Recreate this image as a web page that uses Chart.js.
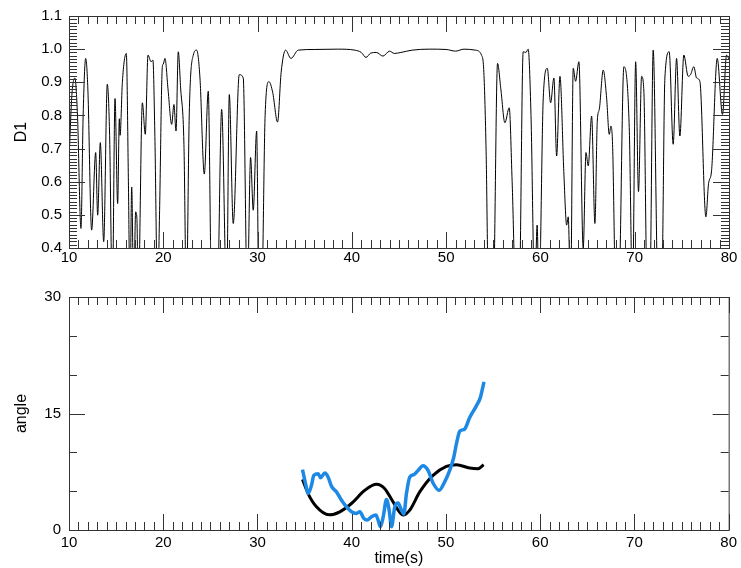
<!DOCTYPE html>
<html>
<head>
<meta charset="utf-8">
<script src="https://cdn.jsdelivr.net/npm/chart.js@4.4.1/dist/chart.umd.min.js"></script>
<style>
  body { margin: 0; background: #fff; }
  #wrap { position: relative; width: 741px; height: 568px; }
  canvas { position: absolute; left: 0; }
</style>
</head>
<body>
<div id="wrap">
  <canvas id="d1Chart" width="741" height="270" style="top:0px"></canvas>
  <canvas id="angleChart" width="741" height="288" style="top:280px"></canvas>
</div>
<script>
// tick labels
const timeTicks = [10, 20, 30, 40, 50, 60, 70, 80];
const d1Ticks = [0.4, 0.5, 0.6, 0.7, 0.8, 0.9, 1.0, 1.1];
const angleTicks = [0, 15, 30];

// top panel: D1 vs time (dips below 0.4 run off the plot)
const d1Time = [
  10.05, 10.3, 10.62, 10.9, 11.27, 11.5, 11.77, 12.0, 12.4, 12.83, 13.04, 13.32, 13.68, 14.06, 14.3, 14.6,
  14.88, 15.16, 15.34, 15.42, 15.66, 16.08, 16.3, 16.47, 16.65, 16.86, 17.07, 17.2, 17.35, 17.78, 18.09,
  18.38, 18.7, 18.9, 19.1, 19.4, 19.6, 19.9, 20.0, 20.18, 20.5, 20.89, 21.13, 21.35, 21.59, 21.84, 22.19,
  22.45, 22.76, 23.18, 23.54, 23.89, 24.35, 24.77, 25.13, 25.73, 26.19, 26.72, 27.0, 27.42, 28.06, 28.48,
  28.91, 29.26, 29.54, 29.9, 30.14, 30.43, 30.8, 31.2, 31.6, 32.12, 32.5, 32.97, 33.54, 34.31, 36.0, 38.5,
  40.3, 41.0, 41.5, 42.0, 42.6, 43.3, 44.0, 44.5, 45.2, 46.4, 48.2, 50.0, 51.0, 51.9, 53.1, 53.75, 54.0,
  54.24, 54.5, 55.0, 55.45, 55.8, 56.23, 56.69, 57.0, 57.4, 57.75, 58.17, 58.46, 58.7, 59.0, 59.4, 59.65,
  59.85, 60.3, 60.73, 61.08, 61.43, 61.72, 62.07, 62.49, 62.78, 62.95, 63.2, 63.48, 63.73, 64.08, 64.54,
  64.83, 65.07, 65.43, 65.78, 66.03, 66.24, 66.66, 67.02, 67.3, 67.48, 67.65, 68.0, 68.3, 68.85, 69.42,
  69.77, 70.1, 70.4, 70.73, 70.97, 71.33, 71.6, 71.96, 72.49, 72.85, 73.2, 73.66, 74.08, 74.44, 74.79,
  75.21, 75.67, 75.92, 76.27, 76.56, 76.91, 77.55, 77.83, 78.15, 78.75, 79.31, 79.74, 80.0
];
const d1Value = [
  0.70, 0.86, 0.913, 0.80, 0.459, 0.80, 0.972, 0.88, 0.454, 0.688, 0.499, 0.718, 0.419, 0.894, 0.75, 0.25,
  0.851, 0.534, 0.79, 0.74, 0.90, 0.987, 0.6, 0.25, 0.584, 0.25, 0.509, 0.49, 0.25, 0.838, 0.743,
  0.982, 0.962, 0.967, 0.75, 0.25, 0.5, 0.947, 0.955, 0.972, 0.88, 0.773, 0.833, 0.753, 0.992, 0.883, 0.713,
  0.25, 0.81, 0.982, 0.997, 0.913, 0.623, 0.873, 0.25, 0.25, 0.818, 0.25, 0.863, 0.474, 0.923, 0.913,
  0.25, 0.673, 0.514, 0.753, 0.25, 0.25, 0.80, 0.902, 0.87, 0.78, 0.93, 0.997, 0.972, 0.997, 0.999, 1.0,
  0.997, 0.99, 0.975, 0.988, 0.99, 0.979, 0.994, 0.987, 0.99, 0.997, 1.0, 0.999, 0.994, 1.0, 0.997, 0.982, 0.93,
  0.69, 0.25, 0.25, 0.957, 0.88, 0.778, 0.823, 0.6, 0.25, 0.25, 0.992, 0.99, 1.0, 0.8, 0.25, 0.469,
  0.25, 0.853, 0.942, 0.838, 0.913, 0.678, 0.918, 0.623, 0.469, 0.494, 0.25, 0.942, 0.903, 0.962, 0.40,
  0.688, 0.648, 0.798, 0.474, 0.783, 0.818, 0.937, 0.853, 0.743, 0.768, 0.713, 0.25, 0.25, 0.947, 0.763,
  0.25, 0.962, 0.57, 0.918, 0.873, 0.25, 0.25, 0.997, 0.25, 0.25, 0.913, 0.992, 0.713, 0.972, 0.738,
  0.982, 0.918, 0.923, 0.947, 0.913, 0.903, 0.494, 0.594, 0.633, 0.972, 0.803, 0.982, 0.97
];

// bottom panel: two angle curves
const blueTime = [
  34.78, 35.1, 35.38, 35.73, 35.98, 36.44, 36.69, 37.15, 37.5, 37.86, 38.39, 38.92, 39.45, 39.98, 40.5,
  40.86, 41.28, 41.63, 42.1, 42.56, 42.8, 43.05, 43.34, 43.69, 43.97, 44.22, 44.57, 44.92, 45.28, 45.53,
  45.81, 46.16, 46.59, 47.04, 47.57, 48.1, 48.63, 49.27, 49.77, 50.4, 50.83, 51.11, 51.46, 51.99, 52.52,
  53.23, 53.65, 53.86, 54.04
];
const blueAngle = [
  7.76, 5.97, 4.69, 5.75, 7.03, 7.25, 6.73, 7.33, 6.8, 5.62, 4.9, 3.83, 2.98, 2.34, 2.13,
  2.34, 1.49, 1.28, 1.7, 1.92, 1.28, 0.43, 1.7, 3.92, 2.56, 0.43, 2.98, 3.49, 2.56, 2.05,
  4.69, 6.82, 7.12, 7.67, 8.27, 7.67, 6.05, 5.11, 5.97, 7.67, 9.37, 11.08, 12.69, 13.0, 14.48,
  15.98, 17.04, 18.11, 19.08
];
const blackTime = [
  34.78, 35.37, 36.26, 37.6, 38.74, 39.97, 41.39, 42.63, 43.51, 44.39, 45.45, 46.16, 47.22, 48.63, 50.05,
  51.11, 52.52, 53.4, 54.0
];
const blackAngle = [
  6.52, 4.69, 2.98, 1.95, 2.34, 3.41, 5.11, 5.88, 5.32, 3.62, 1.92, 2.56, 4.9, 7.03, 8.18,
  8.4, 7.97, 7.88, 8.4
];

Chart.defaults.font.family = "'Liberation Sans', Arial, sans-serif";
Chart.defaults.color = "#000";

const toPoints = (xs, ys) => xs.map((x, i) => ({ x: x, y: ys[i] }));
const fixedTicks = (list) => (scale) => {
  scale.ticks = list.map((v) => ({ value: v }));
};

// frame + inward ticks on all four sides
const frameTicks = {
  id: "frameTicks",
  afterDraw(chart, args, opts) {
    const { ctx, chartArea: a, scales } = chart;
    const drawSet = (scale, minor, major, horizontal) => {
      const n = Math.round((scale.max - scale.min) / minor);
      const ratio = Math.round(major / minor);
      for (let i = 0; i <= n; i++) {
        const len = i % ratio === 0 ? opts.majorLen : opts.minorLen;
        const p = Math.round(scale.getPixelForValue(scale.min + i * minor)) + 0.5;
        ctx.beginPath();
        if (horizontal) {
          ctx.moveTo(p, a.bottom);
          ctx.lineTo(p, a.bottom - len);
          ctx.moveTo(p, a.top);
          ctx.lineTo(p, a.top + len);
        } else {
          ctx.moveTo(a.left, p);
          ctx.lineTo(a.left + len, p);
          ctx.moveTo(a.right, p);
          ctx.lineTo(a.right - len, p);
        }
        ctx.stroke();
      }
    };
    ctx.save();
    ctx.strokeStyle = "#333";
    ctx.lineWidth = 1;
    drawSet(scales.x, opts.xMinor, opts.xMajor, true);
    drawSet(scales.y, opts.yMinor, opts.yMajor, false);
    ctx.strokeRect(a.left + 0.5, a.top + 0.5, a.right - a.left, a.bottom - a.top);
    ctx.restore();
  },
};

const createD1Chart = () => {
  const ctx = document.getElementById("d1Chart").getContext("2d");
  new Chart(ctx, {
    type: "line",
    data: {
      datasets: [
        {
          data: toPoints(d1Time, d1Value),
          borderColor: "#000",
          borderWidth: 1,
          pointRadius: 0,
          cubicInterpolationMode: "monotone",
        },
      ],
    },
    options: {
      responsive: false,
      animation: false,
      devicePixelRatio: 1,
      layout: { padding: { left: 0, right: 12, top: 14, bottom: 0 } },
      plugins: {
        legend: { display: false },
        tooltip: { enabled: false },
        frameTicks: { xMinor: 1, xMajor: 10, yMinor: 0.01, yMajor: 0.1, minorLen: 8, majorLen: 16 },
      },
      scales: {
        x: {
          type: "linear",
          min: 10,
          max: 80,
          afterBuildTicks: fixedTicks(timeTicks),
          afterFit: (scale) => {
            scale.height = 22;
          },
          grid: { display: false, drawTicks: false },
          border: { display: false },
          ticks: { padding: 1, maxRotation: 0, autoSkip: false, font: { size: 15 } },
        },
        y: {
          type: "linear",
          min: 0.4,
          max: 1.1,
          afterBuildTicks: fixedTicks(d1Ticks),
          afterFit: (scale) => {
            scale.width = 69;
          },
          grid: { display: false, drawTicks: false },
          border: { display: false },
          ticks: {
            padding: 7,
            autoSkip: false,
            font: { size: 15 },
            callback: (value) => value.toFixed(1),
          },
          title: { display: true, text: "D1", font: { size: 16 }, padding: { top: 12, bottom: 0 } },
        },
      },
    },
    plugins: [frameTicks],
  });
};

const createAngleChart = () => {
  const ctx = document.getElementById("angleChart").getContext("2d");
  new Chart(ctx, {
    type: "line",
    data: {
      datasets: [
        {
          data: toPoints(blueTime, blueAngle),
          borderColor: "rgb(30, 136, 229)",
          borderWidth: 3.5,
          pointRadius: 0,
          cubicInterpolationMode: "monotone",
        },
        {
          data: toPoints(blackTime, blackAngle),
          borderColor: "#000",
          borderWidth: 3,
          pointRadius: 0,
          cubicInterpolationMode: "monotone",
        },
      ],
    },
    options: {
      responsive: false,
      animation: false,
      devicePixelRatio: 1,
      layout: { padding: { left: 0, right: 12, top: 15, bottom: 0 } },
      plugins: {
        legend: { display: false },
        tooltip: { enabled: false },
        frameTicks: { xMinor: 1, xMajor: 10, yMinor: 5, yMajor: 15, minorLen: 8, majorLen: 16 },
      },
      scales: {
        x: {
          type: "linear",
          min: 10,
          max: 80,
          afterBuildTicks: fixedTicks(timeTicks),
          afterFit: (scale) => {
            scale.height = 38;
          },
          grid: { display: false, drawTicks: false },
          border: { display: false },
          ticks: { padding: 4, maxRotation: 0, autoSkip: false, font: { size: 15 } },
          title: { display: true, text: "time(s)", font: { size: 16 }, padding: { top: 0, bottom: 0 } },
        },
        y: {
          type: "linear",
          min: 0,
          max: 30,
          afterBuildTicks: fixedTicks(angleTicks),
          afterFit: (scale) => {
            scale.width = 69;
          },
          grid: { display: false, drawTicks: false },
          border: { display: false },
          ticks: { padding: 8, autoSkip: false, font: { size: 15 } },
          title: { display: true, text: "angle", font: { size: 16 }, padding: { top: 12, bottom: 0 } },
        },
      },
    },
    plugins: [frameTicks],
  });
};

createD1Chart();
createAngleChart();
</script>
</body>
</html>
